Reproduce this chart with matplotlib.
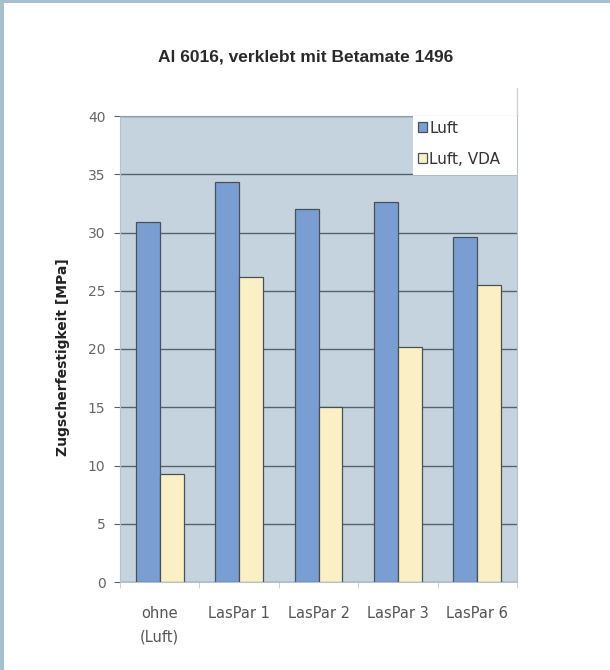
import matplotlib
matplotlib.use("Agg")
import matplotlib.pyplot as plt
from matplotlib.patches import Rectangle
from matplotlib.lines import Line2D
import numpy as np

plt.rcParams['font.family'] = ['DejaVu Sans']

categories = ["ohne\n(Luft)", "LasPar 1", "LasPar 2", "LasPar 3", "LasPar 6"]
luft = [30.9, 34.3, 32.0, 32.6, 29.6]
luft_vda = [9.3, 26.2, 15.0, 20.2, 25.5]
series_names = ["Luft", "Luft, VDA"]
yticks = [0, 5, 10, 15, 20, 25, 30, 35, 40]

W, H = 610, 670
fig = plt.figure(figsize=(W / 100, H / 100), dpi=100)
fig.patch.set_facecolor("white")

# thin frame strips along the top and left edge
fig.patches.append(Rectangle((0, 0), 4 / W, 1, transform=fig.transFigure,
                             facecolor="#a8bfcf", edgecolor="none", zorder=-1))
fig.patches.append(Rectangle((0, 1 - 3 / H), 1, 3 / H, transform=fig.transFigure,
                             facecolor="#a8bfcf", edgecolor="none", zorder=-1))
# faint chart-area border line on the right
fig.lines.append(Line2D([517 / W, 517 / W], [1 - 88 / H, 1 - 116 / H],
                        transform=fig.transFigure, color="#d0d0d0", lw=1))

ax = fig.add_axes([120 / W, 1 - 582 / H, 397 / W, 466 / H])
ax.set_facecolor("#c4d3dd")

x = np.arange(len(categories))
bw = 0.3
ax.bar(x - bw / 2, luft, bw, color="#7b9ed2", edgecolor="#4a5058",
       linewidth=0.9, zorder=3, label=series_names[0])
ax.bar(x + bw / 2, luft_vda, bw, color="#fbf0c5", edgecolor="#4a5058",
       linewidth=0.9, zorder=3, label=series_names[1])

ax.set_xlim(-0.5, len(categories) - 0.5)
ax.set_ylim(0, 40)
ax.set_yticks(yticks)
ax.set_yticklabels([str(v) for v in yticks])
ax.yaxis.grid(True, color="#55636d", linewidth=1.0, zorder=1)
ax.set_axisbelow(True)

ax.set_xticks(x)
ax.set_xticklabels(categories, fontsize=10.5, color="#555555", linespacing=1.75)
ax.set_xticks(np.arange(len(categories) + 1) - 0.5, minor=True)
ax.tick_params(axis="x", which="major", length=0, pad=17)
ax.tick_params(axis="x", which="minor", length=4, color="#c8c8c8", direction="out")
ax.tick_params(axis="y", length=4.5, color="#55636d", labelsize=10,
               labelcolor="#666666", pad=6)

for side in ["left", "right", "top", "bottom"]:
    ax.spines[side].set_color("#b5c2cc")
    ax.spines[side].set_linewidth(0.8)
ax.spines["top"].set_color("#8f9ca6")

ax.set_ylabel("Zugscherfestigkeit [MPa]", fontsize=10, fontweight="bold",
              color="#222222", labelpad=8)
ax.yaxis.set_label_coords(-0.125, 0.483)

# white legend panel in the upper right of the plot area
lx0 = (413 - 120) / 397
ly0 = (582 - 175) / 466
ax.add_patch(Rectangle((lx0, ly0), 1 - lx0, 1 - ly0, transform=ax.transAxes,
                       facecolor="white", edgecolor="none", zorder=5))
leg = ax.legend(loc="upper left", bbox_to_anchor=(lx0, 1.0), frameon=False,
                fontsize=11, handlelength=0.6, handleheight=0.6,
                handletextpad=0.15, labelspacing=1.05, borderaxespad=0.0,
                borderpad=0.3)
leg.set_zorder(6)
for t in leg.get_texts():
    t.set_color("#333333")

fig.text(306 / W, 1 - 57 / H, "Al 6016, verklebt mit Betamate 1496",
         ha="center", va="center", fontsize=12.5, fontweight="bold",
         color="#2a2a2a", family="Liberation Sans")

fig.savefig("out.png", dpi=100, facecolor=fig.get_facecolor())
